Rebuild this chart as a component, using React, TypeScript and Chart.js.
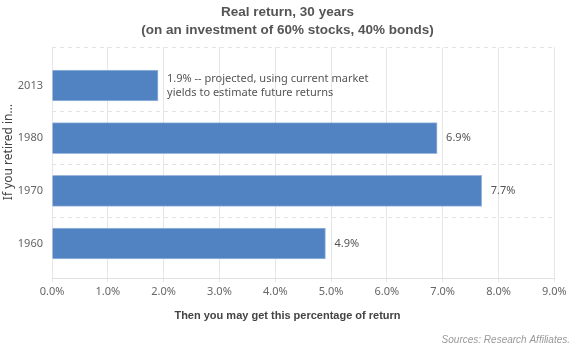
import React, { useEffect, useRef } from "react";
import { Chart, registerables } from "chart.js";

Chart.register(...registerables);

const categories = ["2013", "1980", "1970", "1960"];
const values = [1.9, 6.9, 7.7, 4.9];
const valueLabels = [
  ["1.9% -- projected, using current market", "yields to estimate future returns"],
  ["6.9%"],
  ["7.7%"],
  ["4.9%"],
];
const xTicks = [0, 1, 2, 3, 4, 5, 6, 7, 8, 9];
const titleLines = ["Real return, 30 years", "(on an investment of 60% stocks, 40% bonds)"];
const xTitle = "Then you may get this percentage of return";
const yTitle = "If you retired in...";
const sourceText = "Sources: Research Affiliates.";

const Y_MIN = -0.73;
const Y_MAX = 3.655;
const BODY_FONT = "'Noto Sans', sans-serif";

export default function App() {
  const ref = useRef<HTMLCanvasElement | null>(null);

  useEffect(() => {
    document.body.style.margin = "0";
    const canvas = ref.current!;
    const textPlugin = {
      id: "texts",
      afterDatasetsDraw(chart: any) {
        const ctx = chart.ctx;
        ctx.save();
        // data labels
        const meta = chart.getDatasetMeta(0);
        ctx.fillStyle = "#555555";
        ctx.font = "11px " + BODY_FONT;
        ctx.textAlign = "left";
        ctx.textBaseline = "middle";
        meta.data.forEach((bar: any, i: number) => {
          const lines = valueLabels[i];
          const lh = 14;
          const y0 = bar.y - ((lines.length - 1) * lh) / 2;
          lines.forEach((l, k) => ctx.fillText(l, bar.x + 9, y0 + k * lh));
        });
        // title
        ctx.fillStyle = "#555555";
        ctx.font = "bold 13.5px 'Liberation Sans', Arial, sans-serif";
        ctx.textAlign = "center";
        ctx.fillText(titleLines[0], 287.5, 12);
        ctx.fillText(titleLines[1], 287.5, 30);
        // x title
        ctx.font = "bold 11px 'Liberation Sans', Arial, sans-serif";
        ctx.fillStyle = "#444444";
        ctx.fillText(xTitle, 287.5, 316);
        // sources
        ctx.font = "italic 10px 'Liberation Sans', Arial, sans-serif";
        ctx.fillStyle = "#999999";
        ctx.textAlign = "right";
        ctx.fillText(sourceText, 570, 340);
        // y title
        ctx.translate(9, 152);
        ctx.rotate(-Math.PI / 2);
        ctx.textAlign = "center";
        ctx.fillStyle = "#444444";
        ctx.font = "12px " + BODY_FONT;
        ctx.fillText(yTitle, 0, 0);
        ctx.restore();
      },
    };

    const chart = new Chart(canvas, {
      type: "bar",
      data: {
        datasets: [
          {
            data: values.map((v, i) => ({ x: v, y: i })),
            backgroundColor: "#5182c1",
            borderColor: "#9cb8de",
            borderWidth: 1,
            barThickness: 31,
          },
        ],
      },
      plugins: [textPlugin],
      options: {
        indexAxis: "y",
        animation: false,
        responsive: false,
        layout: { padding: { left: 0, right: 20.7, top: 47, bottom: 0 } },
        plugins: { legend: { display: false }, tooltip: { enabled: false }, title: { display: false } },
        scales: {
          x: {
            type: "linear",
            min: 0,
            max: 9,
            afterBuildTicks: (s: any) => {
              s.ticks = xTicks.map((v) => ({ value: v }));
            },
            afterFit: (s: any) => {
              s.height = 76;
            },
            ticks: {
              callback: (v: any) => Number(v).toFixed(1) + "%",
              color: "#666666",
              font: { family: BODY_FONT, size: 11 },
              padding: 3,
              maxRotation: 0,
            },
            grid: { color: "#e6e6e6", lineWidth: 1, tickLength: 4, drawTicks: true },
            border: { display: true, color: "#e0e0e0" },
          },
          y: {
            type: "linear",
            reverse: true,
            offset: false,
            min: Y_MIN,
            max: Y_MAX,
            afterBuildTicks: (s: any) => {
              const t: any[] = [{ value: Y_MIN }];
              categories.forEach((_, i) => {
                t.push({ value: i });
                if (i < categories.length - 1) t.push({ value: i + 0.5 });
              });
              s.ticks = t;
            },
            afterFit: (s: any) => {
              s.width = 52;
            },
            ticks: {
              autoSkip: false,
              callback: (v: any) => (Number.isInteger(v) ? categories[v] : ""),
              color: "#666666",
              font: { family: BODY_FONT, size: 11 },
              padding: 9,
            },
            grid: {
              drawTicks: false,
              offset: false,
              color: (c: any) =>
                c.tick && Number.isInteger(c.tick.value) ? "rgba(0,0,0,0)" : "#e3e3e3",
            },
            border: { display: false, dash: [4, 4] },
          },
        },
      },
    } as any);
    return () => chart.destroy();
  }, []);

  return (
    <div style={{ position: "absolute", left: 0, top: 0, width: 575, height: 354 }}>
      <canvas ref={ref} width={575} height={354} style={{ width: 575, height: 354 }} />
    </div>
  );
}
